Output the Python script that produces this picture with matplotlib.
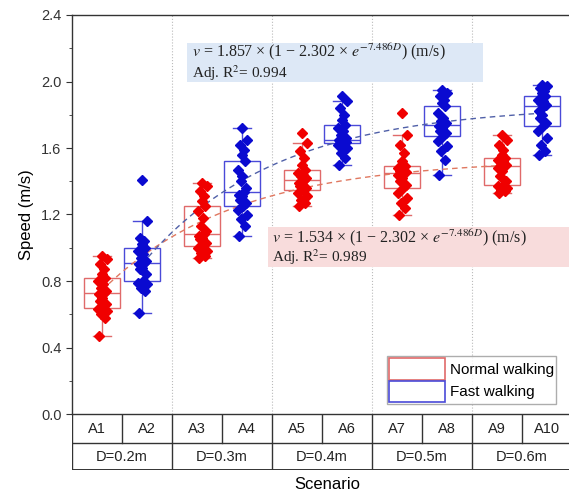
import matplotlib
matplotlib.use("Agg")
import matplotlib.pyplot as plt
from matplotlib.patches import Patch, Rectangle
import numpy as np

plt.rcParams['font.family'] = ['Liberation Sans', 'DejaVu Sans']
plt.rcParams['mathtext.fontset'] = 'stix'

scenarios = ["A1", "A2", "A3", "A4", "A5", "A6", "A7", "A8", "A9", "A10"]
distances = ["D=0.2m", "D=0.3m", "D=0.4m", "D=0.5m", "D=0.6m"]

# speed samples (m/s)
normal_speed = [
    [0.47, 0.58, 0.60, 0.62, 0.63, 0.64, 0.66, 0.68, 0.70, 0.72, 0.73,
     0.74, 0.76, 0.78, 0.80, 0.82, 0.84, 0.87, 0.90, 0.93, 0.95],
    [0.94, 0.95, 0.97, 0.98, 1.00, 1.01, 1.03, 1.05, 1.06, 1.07, 1.08,
     1.10, 1.13, 1.18, 1.22, 1.25, 1.28, 1.31, 1.34, 1.37, 1.39],
    [1.25, 1.27, 1.29, 1.31, 1.33, 1.35, 1.36, 1.37, 1.38, 1.39, 1.41,
     1.42, 1.43, 1.44, 1.45, 1.47, 1.50, 1.54, 1.58, 1.63, 1.69],
    [1.20, 1.24, 1.27, 1.30, 1.33, 1.36, 1.38, 1.40, 1.42, 1.44, 1.45,
     1.455, 1.46, 1.47, 1.48, 1.49, 1.52, 1.57, 1.62, 1.68, 1.81],
    [1.33, 1.34, 1.35, 1.36, 1.37, 1.38, 1.40, 1.43, 1.46, 1.48, 1.49,
     1.50, 1.51, 1.52, 1.53, 1.54, 1.56, 1.59, 1.62, 1.65, 1.68],
]
fast_speed = [
    [0.61, 0.74, 0.76, 0.78, 0.79, 0.80, 0.84, 0.87, 0.88, 0.90, 0.91,
     0.92, 0.94, 0.96, 0.98, 1.00, 1.02, 1.04, 1.06, 1.16, 1.41],
    [1.07, 1.13, 1.17, 1.20, 1.23, 1.25, 1.27, 1.29, 1.31, 1.32, 1.335,
     1.36, 1.40, 1.43, 1.47, 1.52, 1.56, 1.59, 1.62, 1.65, 1.72],
    [1.50, 1.54, 1.57, 1.60, 1.62, 1.63, 1.635, 1.64, 1.645, 1.647, 1.65,
     1.66, 1.68, 1.70, 1.72, 1.74, 1.77, 1.80, 1.84, 1.88, 1.91],
    [1.44, 1.53, 1.58, 1.61, 1.64, 1.67, 1.69, 1.70, 1.72, 1.73, 1.74,
     1.75, 1.76, 1.78, 1.81, 1.85, 1.87, 1.89, 1.91, 1.93, 1.95],
    [1.56, 1.58, 1.62, 1.66, 1.70, 1.73, 1.75, 1.78, 1.80, 1.82, 1.85,
     1.86, 1.87, 1.88, 1.89, 1.91, 1.93, 1.94, 1.96, 1.97, 1.98],
]

# fit parameters v = a * (1 - b * exp(-c * D))
fit_normal_a = 1.534
fit_fast_a = 1.857
fit_b = 2.302
fit_c = 7.486
r2_normal = 0.989
r2_fast = 0.994

red_box = '#e06a6a'
blue_box = '#4a4ad8'
red_pt = '#f00000'
blue_pt = '#0a0ad0'

fig = plt.figure(figsize=(5.69, 4.98), dpi=100)
ax = fig.add_axes([72/569, 84/498, 500/569, 399/498])

# fixed horizontal spread of the dots
spread = [-0.06, 0.05, -0.02, 0.09, -0.09, 0.02, 0.07, -0.04, 0.0, -0.07,
          0.04, 0.08, -0.03, 0.01, -0.08, 0.06, -0.01, 0.03, -0.05, 0.1, 0.0]

pos_normal = [1.1 + 2*i for i in range(5)]
pos_fast = [1.9 + 2*i for i in range(5)]

for data, pos, ec, pc in [(normal_speed, pos_normal, red_box, red_pt),
                          (fast_speed, pos_fast, blue_box, blue_pt)]:
    ax.boxplot(data, positions=pos, widths=0.73, showfliers=False,
               patch_artist=True, manage_ticks=False,
               boxprops=dict(facecolor='none', edgecolor=ec, lw=1.0),
               medianprops=dict(color=ec, lw=1.0),
               whiskerprops=dict(color=ec, lw=1.0),
               capprops=dict(color=ec, lw=1.0))
    for vals, p in zip(data, pos):
        xs = [p + spread[k % len(spread)] for k in range(len(vals))]
        ax.plot(xs, vals, 'D', ms=4.6, color=pc, mec=pc, zorder=4)

# fitted curves
D = np.linspace(0.2, 0.6, 200)
ax.plot(1.1 + 20*(D - 0.2), fit_normal_a*(1 - fit_b*np.exp(-fit_c*D)),
        ls=(0, (4, 3)), color='#e07860', lw=1.0, zorder=3)
ax.plot(1.9 + 20*(D - 0.2), fit_fast_a*(1 - fit_b*np.exp(-fit_c*D)),
        ls=(0, (4, 3)), color='#5060a8', lw=1.0, zorder=3)

for xv in [2.5, 4.5, 6.5, 8.5]:
    ax.axvline(xv, color='#bbbbbb', ls=':', lw=0.8, zorder=0)

ax.set_xlim(0.5, 10.5)
ax.set_ylim(0, 2.4)
ax.set_xticks([])
ax.set_yticks(np.arange(0, 2.41, 0.4))
ax.set_yticklabels(["%.1f" % v for v in np.arange(0, 2.41, 0.4)])
ax.set_yticks(np.arange(0.2, 2.4, 0.4), minor=True)
ax.tick_params(axis='y', which='major', length=4, labelsize=10.5,
               colors='#333333', direction='out')
ax.tick_params(axis='y', which='minor', length=2, direction='out',
               colors='#333333')
for s in ax.spines.values():
    s.set_color('#333333')
    s.set_linewidth(1.0)
ax.spines['right'].set_visible(False)
ax.set_ylabel("Speed (m/s)", fontsize=12, labelpad=5)

# fit annotations
serif = ['Liberation Serif', 'DejaVu Serif']
ax.add_patch(Rectangle((2.8, 1.997), 5.92, 0.234, fc='#dde8f6', ec='none', zorder=5))
ax.add_patch(Rectangle((4.42, 0.884), 6.2, 0.241, fc='#f8dcdc', ec='none', zorder=5))
notes = [(fit_fast_a, r2_fast, 2.9, 2.177, 2.051),
         (fit_normal_a, r2_normal, 4.5, 1.059, 0.944)]
for a, r2, x0, y1, y2 in notes:
    ax.text(x0, y1, r"$v$ = %.3f × (1 − %.3f × $e^{-%.3fD}$) (m/s)" % (a, fit_b, fit_c),
            fontsize=11.5, family=serif, color='#222222', va='center', zorder=6)
    ax.text(x0, y2, "Adj. R$^2$= %.3f" % r2,
            fontsize=11, family=serif, color='#222222', va='center', zorder=6)

handles = [Patch(facecolor='white', edgecolor=red_box, lw=1.2, label='Normal walking'),
           Patch(facecolor='white', edgecolor=blue_box, lw=1.2, label='Fast walking')]
ax.legend(handles=handles, loc='lower right', bbox_to_anchor=(0.972, 0.02),
          fontsize=11, frameon=True, fancybox=False, edgecolor='#999999',
          handlelength=3.7, handleheight=1.8, handletextpad=0.3,
          borderpad=0.15, labelspacing=0.05, borderaxespad=0.1)

# table under the axis
tab = fig.add_axes([72/569, 28/498, 500/569, 56/498])
tab.set_xlim(0.5, 10.5)
tab.set_ylim(0, 56)
tab.axis('off')
lc = '#333333'
tab.plot([0.5, 10.5], [27, 27], color=lc, lw=1.0)
tab.plot([0.5, 10.5], [0.5, 0.5], color=lc, lw=1.4)
tab.plot([0.5, 0.5], [0, 56], color=lc, lw=1.0)
for i in range(1, 10):
    top_only = (i % 2 == 1)
    tab.plot([i + 0.5, i + 0.5], [27 if top_only else 0, 56], color=lc, lw=1.0)
for i, s in enumerate(scenarios):
    tab.text(i + 1, 41.5, s, ha='center', va='center', fontsize=10.5, color='#222222')
for i, s in enumerate(distances):
    tab.text(2*i + 1.5, 13.5, s, ha='center', va='center', fontsize=10.5, color='#222222')

fig.text(327/569, 1 - 484/498, "Scenario", ha='center', va='center', fontsize=12)

fig.savefig("out.png", dpi=100)
